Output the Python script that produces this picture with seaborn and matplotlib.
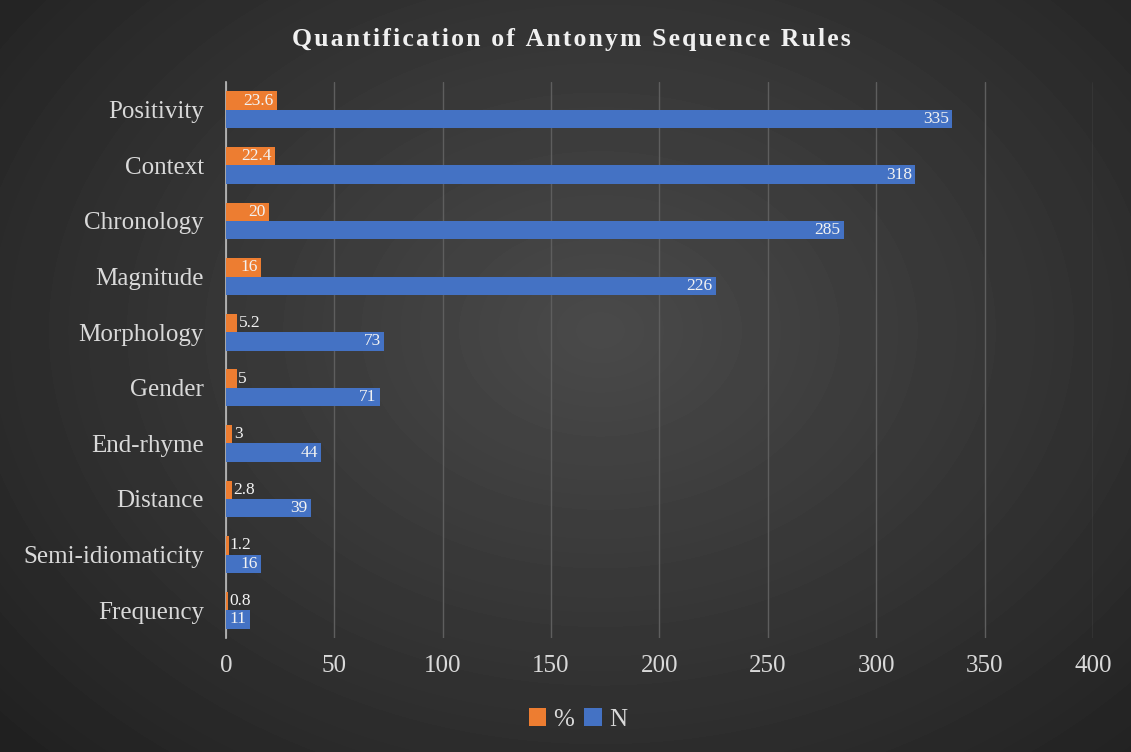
import numpy as np
import pandas as pd
import matplotlib
matplotlib.use("Agg")
import matplotlib.pyplot as plt
import seaborn as sns

# Data
rules = ["Positivity", "Context", "Chronology", "Magnitude", "Morphology",
         "Gender", "End-rhyme", "Distance", "Semi-idiomaticity", "Frequency"]
pct = [23.6, 22.4, 20, 16, 5.2, 5, 3, 2.8, 1.2, 0.8]
n_vals = [335, 318, 285, 226, 73, 71, 44, 39, 16, 11]
x_ticks = [0, 50, 100, 150, 200, 250, 300, 350, 400]

df = pd.DataFrame({
    "rule": rules * 2,
    "series": ["%"] * len(rules) + ["N"] * len(rules),
    "value": pct + n_vals,
})

sns.set_theme(style="dark")
plt.rcParams["font.family"] = ["Liberation Serif", "DejaVu Serif"]

fig = plt.figure(figsize=(11.31, 7.52), dpi=100)

# radial gradient background
bg = fig.add_axes([0, 0, 1, 1], zorder=-10)
yy, xx = np.mgrid[0:752, 0:1131]
r = np.sqrt(((xx - 600) / 800.0) ** 2 + ((yy - 330) / 600.0) ** 2)
shade = np.clip(0.29 - 0.16 * r, 0.11, 0.30)
bg.imshow(shade, cmap="gray", vmin=0, vmax=1, aspect="auto",
          interpolation="bilinear")
bg.axis("off")

ax = fig.add_axes([0.1998, 0.1516, 0.7666, 0.7394])
ax.set_facecolor("none")

sns.barplot(data=df, y="rule", x="value", hue="series", hue_order=["%", "N"],
            orient="h", palette=["#ED7D31", "#4472C4"], width=0.66,
            saturation=1, linewidth=0, ax=ax, zorder=3)

ax.set_xlim(0, 400)
ax.set_xticks(x_ticks)
ax.set_xlabel("")
ax.set_ylabel("")
ax.grid(axis="x", color="#5e5e5e", linewidth=1, zorder=0)
ax.grid(axis="y", visible=False)
for s in ["top", "right", "bottom"]:
    ax.spines[s].set_visible(False)
ax.spines["left"].set_color("#bfbfbf")
ax.spines["left"].set_linewidth(1.2)
ax.tick_params(axis="both", length=0, colors="#d9d9d9", labelsize=18)
ax.tick_params(axis="y", pad=16)
ax.tick_params(axis="x", pad=12)

# data labels
for cont in ax.containers:
    for bar in cont:
        w = bar.get_width()
        yc = bar.get_y() + bar.get_height() / 2
        txt = f"{w:g}"
        if w < 10:
            ax.text(max(w, 0.6) + 0.6, yc, txt, ha="left", va="center",
                    color="#f2f2f2", fontsize=12.5, zorder=5)
        else:
            ax.text(w - 1.5, yc, txt, ha="right", va="center",
                    color="#f2f2f2", fontsize=12.5, zorder=5)

leg = ax.legend(loc="center", bbox_to_anchor=(0.511, 0.043),
                bbox_transform=fig.transFigure, ncol=2, frameon=False,
                handlelength=0.7, handleheight=0.7, columnspacing=0.4,
                handletextpad=0.3, fontsize=18)
for t in leg.get_texts():
    t.set_color("#d9d9d9")

title = "\u200a".join("Quantification of Antonym Sequence Rules")
fig.text(0.505, 0.947, title, ha="center", va="center", fontsize=18.5,
         fontweight="bold", color="#f0f0f0")

fig.savefig("out.png", dpi=100)
